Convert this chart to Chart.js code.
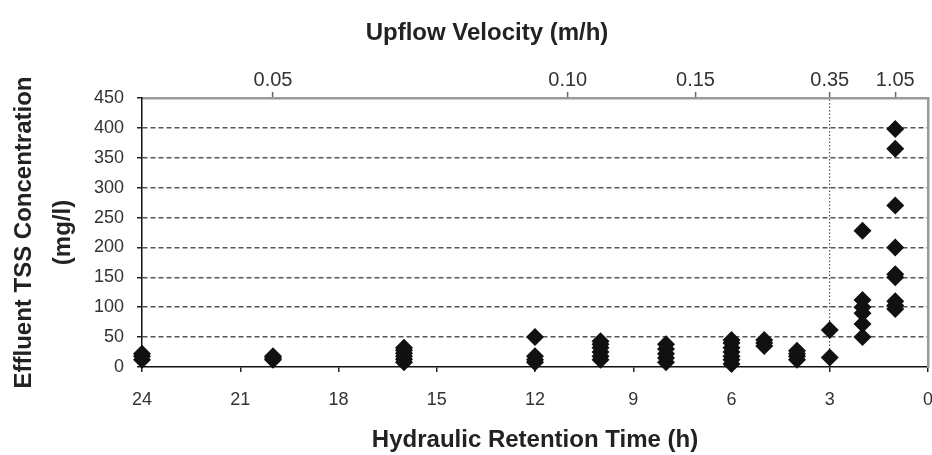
<!DOCTYPE html>
<html>
<head>
<meta charset="utf-8">
<script src="https://cdn.jsdelivr.net/npm/chart.js@4"></script>
<style>
  body { margin: 0; background: #fff; }
  #wrap { width: 932px; height: 455px; }
</style>
</head>
<body>
<div id="wrap"><canvas id="tssChart"></canvas></div>
<script>
// hydraulic retention time groups (h) and effluent TSS readings (mg/l)
const hrtGroups = [24, 20, 16, 12, 10, 8, 6, 5, 4, 3, 2, 1];
const tssGroups = [
  [12, 18, 22],
  [12, 15, 18],
  [8, 13, 18, 23, 28, 32],
  [8, 12, 18, 50],
  [12, 18, 25, 32, 38, 43],
  [8, 15, 22, 30, 38],
  [5, 12, 18, 25, 32, 40, 45],
  [35, 40, 45],
  [12, 18, 22, 27],
  [16, 62],
  [50, 72, 90, 100, 112, 228],
  [97, 103, 110, 150, 155, 200, 270, 365, 398]
];

// upflow velocity labels on the top axis, placed at these HRT values
const velocityAtHrt = [20, 11, 7.1, 3, 1];
const velocityLabels = ['0.05', '0.10', '0.15', '0.35', '1.05'];
const markedHrt = 3; // dotted line under 0.35

const points = [];
hrtGroups.forEach((h, i) => {
  tssGroups[i].forEach(v => points.push({ x: h, y: v }));
});

const family = "'Liberation Sans', Arial, sans-serif";
const tickFont = { family, size: 18 };
const titleFont = { family, size: 24, weight: 'bold' };

const ctx = document.getElementById('tssChart');

new Chart(ctx, {
  type: 'scatter',
  data: {
    datasets: [{
      label: 'TSS',
      data: points,
      pointStyle: 'rectRot',
      pointRadius: 9,
      pointHoverRadius: 9,
      backgroundColor: '#111',
      borderColor: '#111',
      borderWidth: 0,
      clip: false
    }]
  },
  options: {
    responsive: true,
    maintainAspectRatio: false,
    animation: false,
    layout: { padding: { left: 42, right: 0, top: 0, bottom: 0 }, autoPadding: false },
    plugins: {
      legend: { display: false },
      tooltip: { enabled: false },
      title: {
        display: true,
        text: 'Upflow Velocity (m/h)',
        color: '#222',
        font: titleFont,
        padding: { top: 19, bottom: 0 }
      }
    },
    scales: {
      x: {
        type: 'linear',
        position: 'bottom',
        min: 0,
        max: 24,
        reverse: true,
        ticks: { stepSize: 3, color: '#333', font: tickFont, padding: 17, maxRotation: 0 },
        grid: { drawOnChartArea: false, tickLength: 5, color: '#222', lineWidth: 1.5 },
        border: { color: '#111', width: 1.5 },
        title: {
          display: true,
          text: 'Hydraulic Retention Time (h)',
          color: '#222',
          font: titleFont,
          padding: { top: 0, bottom: 0 }
        },
        afterFit: s => { s.height = 88; s.paddingLeft = 0; s.paddingRight = 0; }
      },
      x2: {
        type: 'linear',
        position: 'top',
        min: 0,
        max: 24,
        reverse: true,
        afterBuildTicks: s => { s.ticks = velocityAtHrt.map(v => ({ value: v })); },
        ticks: {
          color: '#333',
          font: { family, size: 20 },
          padding: 0,
          maxRotation: 0,
          autoSkip: false,
          callback: (value, index) => velocityLabels[index]
        },
        grid: {
          drawOnChartArea: true,
          tickLength: 6,
          lineWidth: 1.2,
          color: c => (c.tick && c.tick.value === markedHrt) ? '#555' : 'rgba(0,0,0,0)',
          tickColor: '#666',
          tickWidth: 1.5
        },
        border: { color: '#9a9a9a', width: 2.5, dash: [1.5, 2] },
        afterFit: s => { s.height = 50.2; s.paddingLeft = 0; s.paddingRight = 0; }
      },
      y: {
        type: 'linear',
        position: 'left',
        min: 0,
        max: 450,
        ticks: { stepSize: 50, color: '#333', font: tickFont, padding: 13 },
        grid: {
          tickLength: 5,
          lineWidth: 1.5,
          color: c => (c.tick && (c.tick.value === 0 || c.tick.value === 450)) ? 'rgba(0,0,0,0)' : '#555',
          tickColor: '#222'
        },
        border: { color: '#111', width: 1.5, dash: [5, 3] },
        title: {
          display: true,
          text: ['Effluent TSS Concentration', '(mg/l)'],
          color: '#222',
          font: { ...titleFont, lineHeight: 1.625 },
          padding: { top: -37.5, bottom: 0 }
        },
        afterFit: s => { s.width = 100; }
      },
      y2: {
        type: 'linear',
        position: 'right',
        min: 0,
        max: 450,
        ticks: { display: false },
        grid: { display: false },
        border: { color: '#9a9a9a', width: 2.5 },
        afterFit: s => { s.width = 4; }
      }
    }
  }
});
</script>
</body>
</html>
